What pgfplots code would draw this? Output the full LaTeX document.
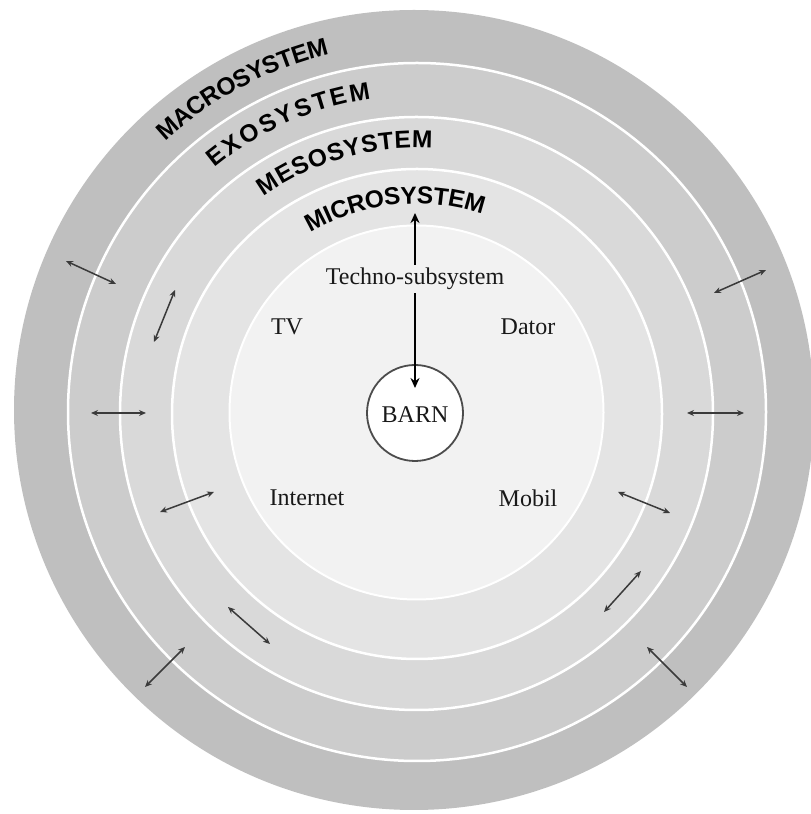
\documentclass[border=0pt]{standalone}
\usepackage{pgfplots}
\pgfplotsset{compat=1.18}
\usepackage{fontspec}
\setmainfont{Liberation Serif}
\newfontfamily\ringfont{Liberation Sans}
\usetikzlibrary{arrows.meta,decorations.text}
\definecolor{macro}{gray}{0.75}
\definecolor{exo}{gray}{0.80}
\definecolor{meso}{gray}{0.85}
\definecolor{micro}{gray}{0.895}
\definecolor{innerc}{gray}{0.95}
\definecolor{arr}{HTML}{3A3A3A}
\tikzset{
  ringtext/.style={decorate,decoration={text effects along path,text={#1},
    text effects/.cd,text along path,fit text to path,
    every character/.style={font={\ringfont\bfseries\fontsize{24.5pt}{24.5pt}\selectfont},text=black}}},
  dblarr/.style={draw=arr,line width=1.5pt,{Stealth[length=7pt,width=6pt]}-{Stealth[length=7pt,width=6pt]}}
}
\begin{document}
\begin{tikzpicture}
\begin{axis}[width=811pt,height=814pt,scale only axis,xmin=0,xmax=811,ymin=0,ymax=814,hide axis,clip=true]
\path (axis cs:0,0) rectangle (axis cs:811,814);
\fill[macro] (axis cs:414,404) circle[radius=400];
\filldraw[fill=exo,draw=white,line width=2.5pt] (axis cs:417,402) circle[radius=349];
\filldraw[fill=meso,draw=white,line width=2.5pt] (axis cs:416.5,400.5) circle[radius=296.5];
\filldraw[fill=micro,draw=white,line width=2.5pt] (axis cs:417,400) circle[radius=245];
\filldraw[fill=innerc,draw=white,line width=2pt] (axis cs:416.5,401.5) circle[radius=187];
\filldraw[fill=white,draw=black!70,line width=1.8pt] (axis cs:415,401) circle[radius=48];
% small double arrows
\addplot[dblarr] coordinates {(66,553) (116,530)};
\addplot[dblarr] coordinates {(175,524) (154,472)};
\addplot[dblarr] coordinates {(91,401) (146,401)};
\addplot[dblarr] coordinates {(160,302) (214,322)};
\addplot[dblarr] coordinates {(714,521) (766,544)};
\addplot[dblarr] coordinates {(687,401) (744,401)};
\addplot[dblarr] coordinates {(618,322) (670,301)};
\addplot[dblarr] coordinates {(145,127) (185,167)};
\addplot[dblarr] coordinates {(228,207) (270,170)};
\addplot[dblarr] coordinates {(604,202) (641,243)};
\addplot[dblarr] coordinates {(647,167) (687,127)};
% main arrow
\addplot[draw=black,line width=2.8pt,{Stealth[length=10pt,width=9pt]}-{Stealth[length=10pt,width=9pt]}] coordinates {(415,601) (415,426)};
% labels
\node[fill=innerc,inner sep=3pt,font=\fontsize{24pt}{24pt}\selectfont,text=black!90] at (axis cs:415,535) {Techno-subsystem};
\node[font=\fontsize{24pt}{24pt}\selectfont,text=black!90] at (axis cs:287,487) {TV};
\node[font=\fontsize{24pt}{24pt}\selectfont,text=black!90] at (axis cs:528,487) {Dator};
\node[font=\fontsize{24pt}{24pt}\selectfont,text=black!90] at (axis cs:307,316) {Internet};
\node[font=\fontsize{24pt}{24pt}\selectfont,text=black!90] at (axis cs:528,316) {Mobil};
\node[font=\fontsize{24pt}{24pt}\selectfont,text=black!90] at (axis cs:415,399) {BARN};
% ring labels
\path[ringtext={MACROSYSTEM}] (axis cs:416,402) ++(132.8:368.4pt) arc[start angle=132.8,end angle=103.6,radius=368.4pt];
\path[ringtext={EXOSYSTEM}] (axis cs:416,402) ++(129.45:316.4pt) arc[start angle=129.45,end angle=98.2,radius=316.4pt];
\path[ringtext={MESOSYSTEM}] (axis cs:416,402) ++(125.2:264pt) arc[start angle=125.2,end angle=86.5,radius=264pt];
\path[ringtext={MICROSYSTEM}] (axis cs:416,402) ++(120.45:208.4pt) arc[start angle=120.45,end angle=71.45,radius=208.4pt];
\end{axis}
\end{tikzpicture}
\end{document}
